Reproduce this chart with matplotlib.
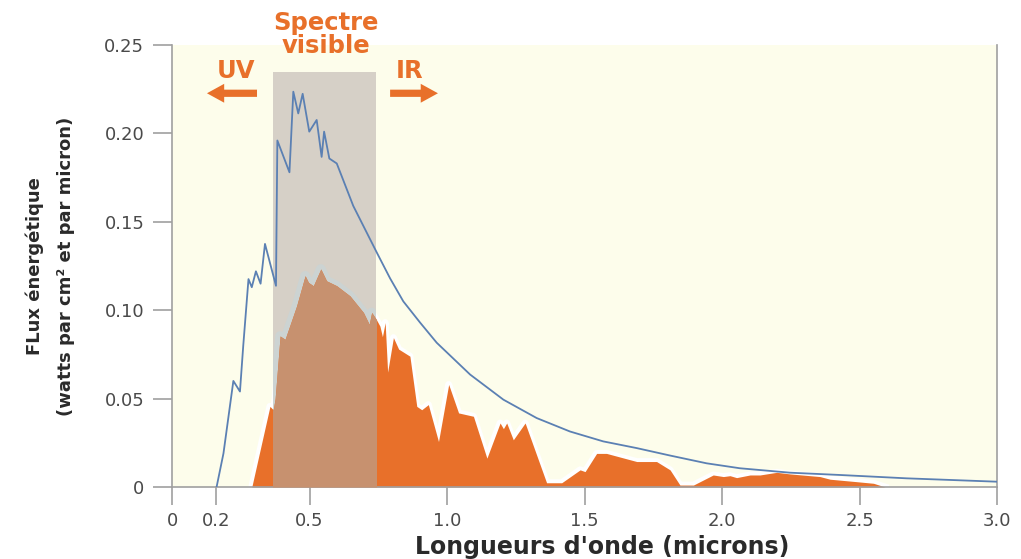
import numpy as np
import matplotlib
matplotlib.use("Agg")
import matplotlib.pyplot as plt
from matplotlib.patches import Rectangle

# spectre solaire, courbe hors atmosphere (bleu)
blue_x = [0.162, 0.187, 0.223, 0.247, 0.259, 0.278, 0.290, 0.305, 0.322, 0.338, 0.378,
          0.383, 0.427, 0.441, 0.459, 0.475, 0.499, 0.526, 0.544, 0.553, 0.572, 0.599,
          0.659, 0.744, 0.793, 0.841, 0.902, 0.9625, 1.084, 1.205, 1.326, 1.447, 1.568,
          1.690, 1.811, 1.944, 2.065, 2.247, 2.429, 2.672, 3.0]
blue_y = [0.0, 0.019, 0.060, 0.054, 0.080, 0.1176, 0.113, 0.122, 0.115, 0.1375, 0.1138,
          0.196, 0.178, 0.2236, 0.2113, 0.2224, 0.201, 0.2076, 0.1867, 0.201, 0.1858, 0.183,
          0.159, 0.1328, 0.118, 0.105, 0.093, 0.0816, 0.0636, 0.0494, 0.039, 0.0314, 0.0258,
          0.022, 0.0178, 0.0134, 0.0106, 0.0081, 0.0068, 0.0049, 0.003]

# spectre au niveau du sol (orange)
orange_x = [0.290, 0.356, 0.368, 0.375, 0.393, 0.411, 0.453, 0.484, 0.496, 0.514, 0.541,
            0.562, 0.599, 0.647, 0.696, 0.717, 0.726, 0.742, 0.756, 0.765, 0.775, 0.784,
            0.805, 0.824, 0.865, 0.890, 0.908, 0.932, 0.969, 1.006, 1.042, 1.096, 1.145,
            1.193, 1.205, 1.217, 1.241, 1.284, 1.362, 1.417, 1.484, 1.502, 1.544, 1.580,
            1.690, 1.762, 1.811, 1.847, 1.896, 1.968, 2.005, 2.029, 2.053, 2.102, 2.138,
            2.199, 2.247, 2.356, 2.393, 2.490, 2.551, 2.593]
orange_y = [0.0, 0.0456, 0.0437, 0.050, 0.0854, 0.0835, 0.1024, 0.1195, 0.1157, 0.1138, 0.1233,
            0.1166, 0.1138, 0.1081, 0.0987, 0.092, 0.0987, 0.095, 0.091, 0.085, 0.093, 0.065,
            0.0845, 0.078, 0.074, 0.0456, 0.0437, 0.0466, 0.0257, 0.058, 0.0419, 0.040, 0.0163,
            0.0362, 0.033, 0.0362, 0.0267, 0.0362, 0.0024, 0.0024, 0.0097, 0.0087, 0.019, 0.019,
            0.0144, 0.0144, 0.0097, 0.0011, 0.0011, 0.0068, 0.0059, 0.0064, 0.0053, 0.0068, 0.0068,
            0.0083, 0.0074, 0.0059, 0.0044, 0.003, 0.0021, 0.0]

visible = (0.367, 0.742)
visible_top = 0.235

xticks = [0, 0.16, 0.5, 1.0, 1.5, 2.0, 2.5, 3.0]
xtick_labels = ["0", "0.2", "0.5", "1.0", "1.5", "2.0", "2.5", "3.0"]
yticks = [0, 0.05, 0.10, 0.15, 0.20, 0.25]
ytick_labels = ["0", "0.05", "0.10", "0.15", "0.20", "0.25"]

ORANGE = "#e8702a"
BROWN = "#c7916f"
GREY_BOX = "#d6d0c7"
BLUE = "#5b80b3"
BG = "#fdfdeb"
AXIS = "#a0a0a0"

plt.rcParams["font.family"] = ["DejaVu Sans"]

fig = plt.figure(figsize=(10.21, 5.59), dpi=100)
ax = fig.add_axes([0.1685, 0.1288, 0.808, 0.7907])
ax.set_facecolor(BG)

# halo blanc autour de la zone orange
ax.plot(orange_x, orange_y, color="white", lw=5, solid_joinstyle="round", zorder=1)

rect = Rectangle((visible[0], 0), visible[1] - visible[0], visible_top,
                 facecolor=GREY_BOX, edgecolor="none", zorder=1.5)
ax.add_patch(rect)

halo = ax.plot(orange_x, orange_y, color="#ccd3d2", lw=7, solid_joinstyle="round", zorder=1.7)[0]
halo.set_clip_path(rect)

ax.fill_between(orange_x, 0, orange_y, color=ORANGE, lw=0, zorder=2)
inner = ax.fill_between(orange_x, 0, orange_y, color=BROWN, lw=0, zorder=3)
inner.set_clip_path(rect)

ax.plot(blue_x, blue_y, color=BLUE, lw=1.3, zorder=4)

ax.set_xlim(0, 3.0)
ax.set_ylim(0, 0.25)
ax.set_xticks(xticks)
ax.set_xticklabels(xtick_labels)
ax.set_yticks(yticks)
ax.set_yticklabels(ytick_labels)

for s in ["left", "bottom", "right"]:
    ax.spines[s].set_color(AXIS)
    ax.spines[s].set_linewidth(1.2)
ax.spines["top"].set_visible(False)
ax.tick_params(axis="x", length=13, width=1.2, color=AXIS, pad=5, labelsize=13, labelcolor="#4a4a4a")
ax.tick_params(axis="y", length=14, width=1.2, color=AXIS, pad=6, labelsize=13, labelcolor="#4a4a4a")

ax.set_xlabel("Longueurs d'onde (microns)", fontsize=17, fontweight="bold", color="#2a2a2a")
ax.xaxis.set_label_coords(0.522, -0.108)
ax.set_ylabel("FLux énergétique\n(watts par cm² et par micron)", fontsize=13,
              fontweight="bold", color="#2a2a2a", linespacing=1.9)
ax.yaxis.set_label_coords(-0.118, 0.5)

txt = dict(color=ORANGE, fontsize=17.5, fontweight="bold", ha="center", va="center",
           clip_on=False, zorder=6)
ax.text(0.56, 0.256, "Spectre\nvisible", linespacing=0.95, **txt)
ax.text(0.233, 0.2355, "UV", **txt)
ax.text(0.865, 0.2355, "IR", **txt)

arrow = dict(arrowstyle="simple,tail_width=0.26,head_width=0.68,head_length=0.62",
             color=ORANGE, lw=0, shrinkA=0, shrinkB=0, mutation_scale=20)
ax.annotate("", xy=(0.127, 0.2227), xytext=(0.309, 0.2227), arrowprops=arrow,
            annotation_clip=False)
ax.annotate("", xy=(0.967, 0.2227), xytext=(0.793, 0.2227), arrowprops=arrow,
            annotation_clip=False)

fig.savefig("out.png", dpi=100, facecolor="white")
